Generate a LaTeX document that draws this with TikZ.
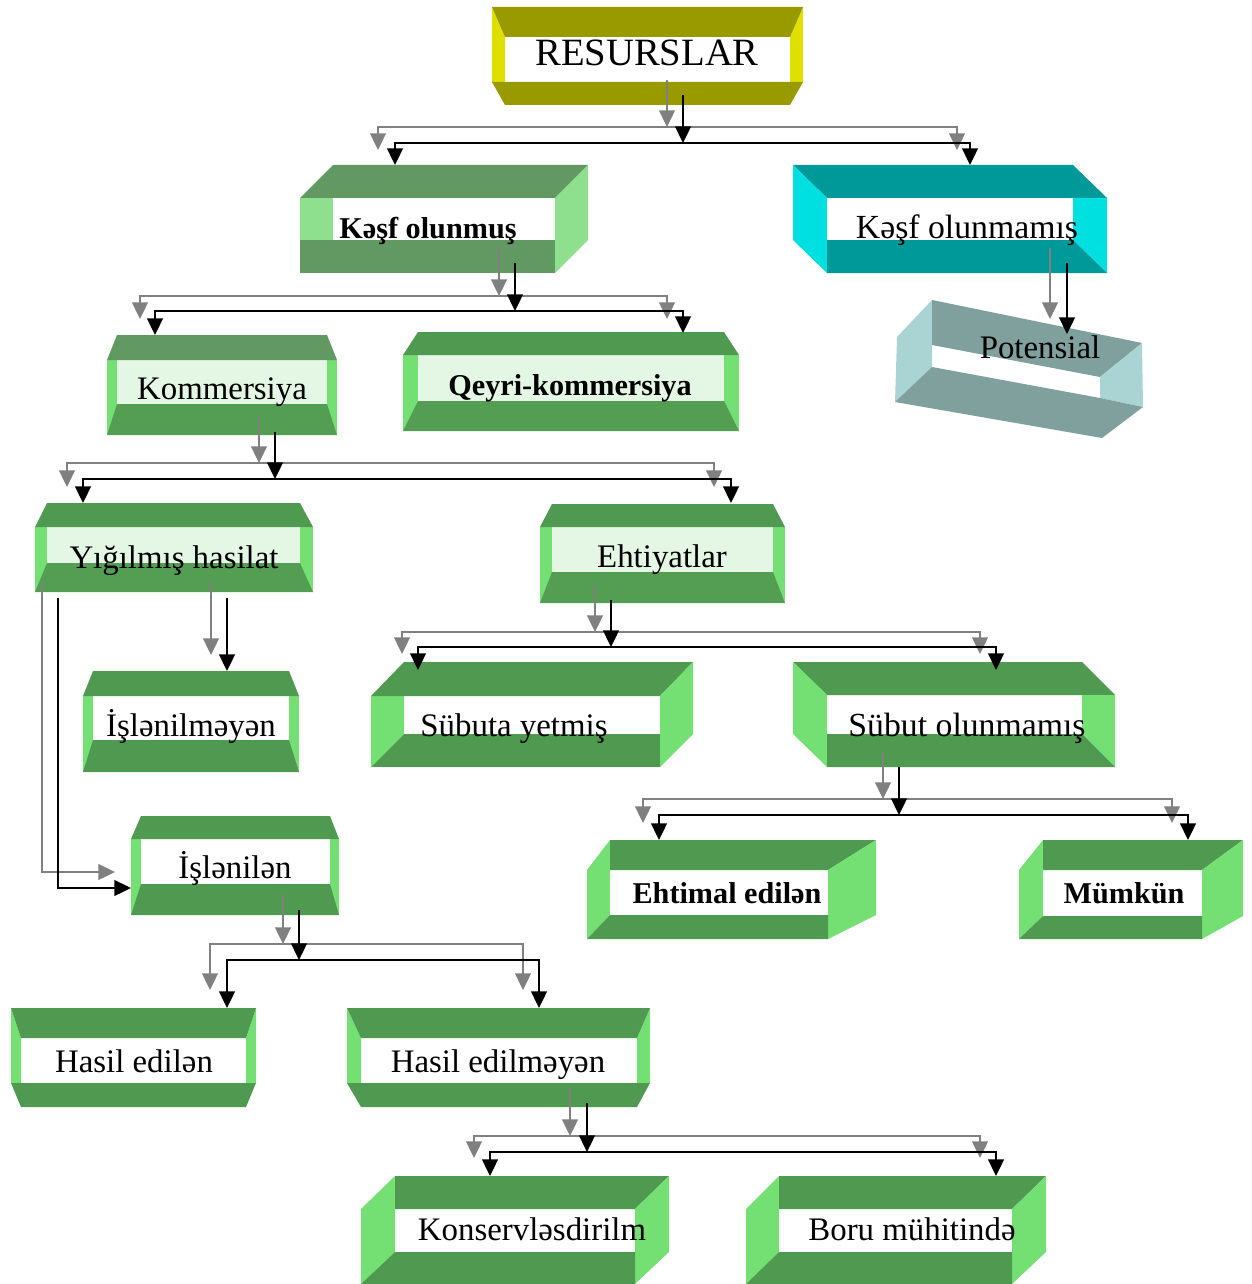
\documentclass[tikz,border=0pt]{standalone}
\usepackage{fontspec}
\setmainfont{Liberation Serif}
\usetikzlibrary{arrows.meta}

\definecolor{olivedk}{RGB}{153,153,0}
\definecolor{olivelt}{RGB}{224,224,0}
\definecolor{kesfdk}{RGB}{98,152,98}
\definecolor{kesflt}{RGB}{142,224,142}
\definecolor{tealdk}{RGB}{0,153,153}
\definecolor{teallt}{RGB}{0,224,224}
\definecolor{potdk}{RGB}{127,160,157}
\definecolor{potlt}{RGB}{170,212,212}
\definecolor{grdk}{RGB}{79,154,80}
\definecolor{grlt}{RGB}{116,224,116}
\definecolor{hatchdk}{RGB}{84,158,84}
\definecolor{hatchlt}{RGB}{228,246,228}
\definecolor{arrgray}{RGB}{128,128,128}

% args: xL xl xr xR  y0 y1 y2 y3  style
% frame, both bands narrowing downwards
\newcommand{\boxA}[9]{%
  \begin{scope}[#9]
    \fill[side] (#1,#5) -- (#2,#6) -- (#2,#7) -- (#1,#7) -- cycle;
    \fill[side] (#4,#5) -- (#3,#6) -- (#3,#7) -- (#4,#7) -- cycle;
    \fill[band] (#1,#5) -- (#4,#5) -- (#3,#6) -- (#2,#6) -- cycle;
    \fill[band] (#1,#7) -- (#4,#7) -- (#3,#8) -- (#2,#8) -- cycle;
  \end{scope}}
% frame, both bands widening downwards
\newcommand{\boxD}[9]{%
  \begin{scope}[#9]
    \fill[win] (#2,#6) rectangle (#3,#7);
    \fill[side] (#1,#6) rectangle (#2,#8);
    \fill[side] (#3,#6) rectangle (#4,#8);
    \fill[band] (#2,#5) -- (#3,#5) -- (#4,#6) -- (#1,#6) -- cycle;
    \fill[lowband] (#2,#7) -- (#3,#7) -- (#4,#8) -- (#1,#8) -- cycle;
  \end{scope}}
% box seen from the left, face on the right
\newcommand{\boxB}[9]{%
  \begin{scope}[#9]
    \fill[band] (#1,#7) rectangle (#3,#8);
    \fill[side] (#1,#6) rectangle (#2,#7);
    \fill[band] (#1,#6) -- (#2,#5) -- (#4,#5) -- (#3,#6) -- cycle;
    \fill[side] (#3,#6) -- (#4,#5) -- (#4,#7) -- (#3,#8) -- cycle;
  \end{scope}}
\newcommand{\boxG}[9]{%
  \begin{scope}[#9]
    \fill[band] (#1,#7) rectangle (#3,#8);
    \fill[side] (#1,#6) -- (#2,#6) -- (#2,#7) -- (#1,#8) -- cycle;
    \fill[band] (#1,#6) -- (#2,#5) -- (#4,#5) -- (#3,#6) -- cycle;
    \fill[side] (#3,#6) -- (#4,#5) -- (#4,#7) -- (#3,#8) -- cycle;
  \end{scope}}
% box seen from the right, face on the left
\newcommand{\boxC}[9]{%
  \begin{scope}[#9]
    \fill[band] (#1,#5) -- (#3,#5) -- (#4,#6) -- (#2,#6) -- cycle;
    \fill[side] (#1,#5) -- (#2,#6) -- (#2,#8) -- (#1,#7) -- cycle;
    \fill[side] (#3,#6) -- (#4,#6) -- (#4,#8) -- (#3,#7) -- cycle;
    \fill[band] (#2,#7) -- (#3,#7) -- (#4,#8) -- (#2,#8) -- cycle;
  \end{scope}}
% slanted box, faces on both sides
\newcommand{\boxH}[9]{%
  \begin{scope}[#9]
    \fill[side] (#1,#6) -- (#2,#5) -- (#2,#7) -- (#1,#8) -- cycle;
    \fill[band] (#2,#5) -- (#4,#5) -- (#3,#6) -- (#2,#6) -- cycle;
    \fill[side] (#3,#6) -- (#4,#5) -- (#4,#7) -- (#3,#8) -- cycle;
    \fill[band] (#1,#8) -- (#2,#7) -- (#3,#7) -- (#3,#8) -- cycle;
  \end{scope}}

\begin{document}
\begin{tikzpicture}
  [x=0.02cm, y=-0.02cm,
   >={Triangle[length=9.5pt,width=9pt]},
   band/.style={fill=grdk}, side/.style={fill=grlt},
   win/.style={fill=white}, lowband/.style={band},
   olivebox/.style={band/.style={fill=olivedk}, side/.style={fill=olivelt}},
   kesfbox/.style={band/.style={fill=kesfdk}, side/.style={fill=kesflt}},
   tealbox/.style={band/.style={fill=tealdk}, side/.style={fill=teallt}},
   hatchbox/.style={win/.style={fill=hatchlt}, lowband/.style={fill=hatchdk}},
   kommbox/.style={hatchbox, band/.style={fill=kesfdk}},
   lbl/.style={anchor=base, inner sep=0pt, font=\fontsize{18.7}{22}\selectfont},
   lbls/.style={lbl, font=\fontsize{19.2}{23}\selectfont},
   lblb/.style={lbl, font=\fontsize{17.2}{20}\selectfont\bfseries},
   lblbig/.style={lbl, font=\fontsize{22}{26}\selectfont},
   garr/.style={draw=arrgray, line width=1.1pt, ->},
   karr/.style={draw=black, line width=1.1pt, ->}]

  \useasboundingbox (0,0) rectangle (1251,1284);

  % boxes
  \boxA{492}{505}{790}{803}{7}{37}{82}{105}{olivebox}
  \boxB{300}{333}{555}{588}{165}{198}{240}{273}{kesfbox}
  \boxC{793}{827}{1073}{1107}{165}{198}{240}{273}{tealbox}
  \fill[potlt] (897,337) -- (932,300) -- (932,367) -- (895,402) -- cycle;
  \fill[potdk] (932,300) -- (1142,343) -- (1100,377) -- (932,345) -- cycle;
  \fill[potlt] (1100,377) -- (1142,343) -- (1143,407) -- (1100,398) -- cycle;
  \fill[potdk] (932,367) -- (1100,398) -- (1143,407) -- (1102,438) -- (895,402) -- cycle;
  \boxD{107}{117}{327}{337}{335}{360}{404}{435}{kommbox}
  \boxD{403}{418}{724}{739}{332}{355}{401}{431}{hatchbox}
  \boxD{35}{47}{300}{313}{503}{527}{563}{592}{hatchbox}
  \boxD{540}{552}{773}{785}{504}{527}{572}{603}{hatchbox}
  \boxD{83}{93}{289}{299}{671}{696}{740}{772}{}
  \boxG{371}{404}{660}{693}{662}{696}{734}{767}{}
  \boxC{793}{827}{1082}{1115}{662}{695}{734}{767}{}
  \boxD{131}{141}{330}{339}{816}{839}{884}{915}{}
  \boxH{587}{610}{828}{876}{840}{870}{915}{939}{}
  \boxH{1019}{1043}{1202}{1243}{840}{870}{916}{939}{}
  \boxA{11}{21}{246}{256}{1008}{1038}{1083}{1107}{}
  \boxA{347}{361}{637}{650}{1008}{1038}{1083}{1107}{}
  \boxH{361}{395}{635}{669}{1176}{1209}{1252}{1284}{}
  \boxH{746}{779}{1012}{1046}{1176}{1209}{1252}{1284}{}

  % labels
  \node[lblbig] (res) at (647,66) {RESURSLAR};
  \node[lblb] (kesf) at (428,238) {Kəşf olunmuş};
  \node[lbls] (kesfno) at (967,238) {Kəşf olunmamış};
  \node[lbl] (pot) at (1040,358) {Potensial};
  \node[lbl] (komm) at (222,399) {Kommersiya};
  \node[lblb] (qeyri) at (570,395) {Qeyri-kommersiya};
  \node[lbl] (yigil) at (174,568) {Yığılmış hasilat};
  \node[lbl] (ehti) at (662,567) {Ehtiyatlar};
  \node[lbl] (islmeyen) at (191,736) {İşlənilməyən};
  \node[lbl] (subyet) at (514,736) {Sübuta yetmiş};
  \node[lbls] (subno) at (967,736) {Sübut olunmamış};
  \node[lbl] (islen) at (235,878) {İşlənilən};
  \node[lblb] (ehtimal) at (727,903) {Ehtimal edilən};
  \node[lblb] (mumkun) at (1124,903) {Mümkün};
  \node[lbl] (hasil) at (134,1072) {Hasil edilən};
  \node[lbl] (hasilno) at (498,1072) {Hasil edilməyən};
  \node[lbl] (konserv) at (532,1240) {Konservləsdirilm};
  \node[lbl] (boru) at (912,1240) {Boru mühitində};

  % connector ends: -g/-k leave a box, -gb/-kb on the bus, -gi/-ki enter a box
  \foreach \n/\x/\y in {res-g/667/80, res-k/683/95, res-gb/667/127, res-kb/683/143,
      kesf-gi/378/150, kesf-ki/395/165, kesfno-gi/957/150, kesfno-ki/970/165,
      kesf-g/499/248, kesf-k/515/263, kesf-gb/499/296, kesf-kb/515/311,
      komm-gi/140/319, komm-ki/155/335, qeyri-gi/667/319, qeyri-ki/683/333,
      kesfno-g/1050/248, kesfno-k/1067/263, pot-gi/1050/319, pot-ki/1067/334,
      komm-g/259/417, komm-k/275/432, komm-gb/259/463, komm-kb/275/479,
      yigil-gi/67/487, yigil-ki/83/503, ehti-gi/714/487, ehti-ki/731/503,
      yigil-g/211/582, yigil-k/227/598, islmeyen-gi/211/655, islmeyen-ki/227/671,
      yigil-g2/42/582, yigil-k2/58/598, islen-gi/115/872, islen-ki/131/888,
      ehti-g/595/585, ehti-k/611/600, ehti-gb/595/632, ehti-kb/611/647,
      subyet-gi/402/654, subyet-ki/418/670, subno-gi/980/654, subno-ki/996/670,
      subno-g/883/752, subno-k/899/767, subno-gb/883/799, subno-kb/899/815,
      ehtimal-gi/643/823, ehtimal-ki/659/840, mumkun-gi/1172/823, mumkun-ki/1188/840,
      islen-g/283/895, islen-k/299/910, islen-gb/283/944, islen-kb/299/960,
      hasil-gi/210/990, hasil-ki/227/1008, hasilno-gi/523/990, hasilno-ki/539/1008,
      hasilno-g/570/1088, hasilno-k/587/1103, hasilno-gb/570/1136, hasilno-kb/587/1152,
      konserv-gi/474/1158, konserv-ki/490/1176, boru-gi/980/1158, boru-ki/996/1176}
    \coordinate (\n) at (\x,\y);

  % forks
  \foreach \p/\a/\b in {res/kesf/kesfno, kesf/komm/qeyri, komm/yigil/ehti,
      ehti/subyet/subno, subno/ehtimal/mumkun, islen/hasil/hasilno, hasilno/konserv/boru} {
    \draw[garr] (\p-g) -- (\p-gb);
    \draw[garr, <->] (\a-gi) |- (\p-gb) -| (\b-gi);
    \draw[karr] (\p-k) -- (\p-kb);
    \draw[karr, <->] (\a-ki) |- (\p-kb) -| (\b-ki);
  }

  % single links
  \draw[garr] (kesfno-g) -- (pot-gi);
  \draw[karr] (kesfno-k) -- (pot-ki);
  \draw[garr] (yigil-g) -- (islmeyen-gi);
  \draw[karr] (yigil-k) -- (islmeyen-ki);
  \draw[garr] (yigil-g2) |- (islen-gi);
  \draw[karr] (yigil-k2) |- (islen-ki);
\end{tikzpicture}
\end{document}
